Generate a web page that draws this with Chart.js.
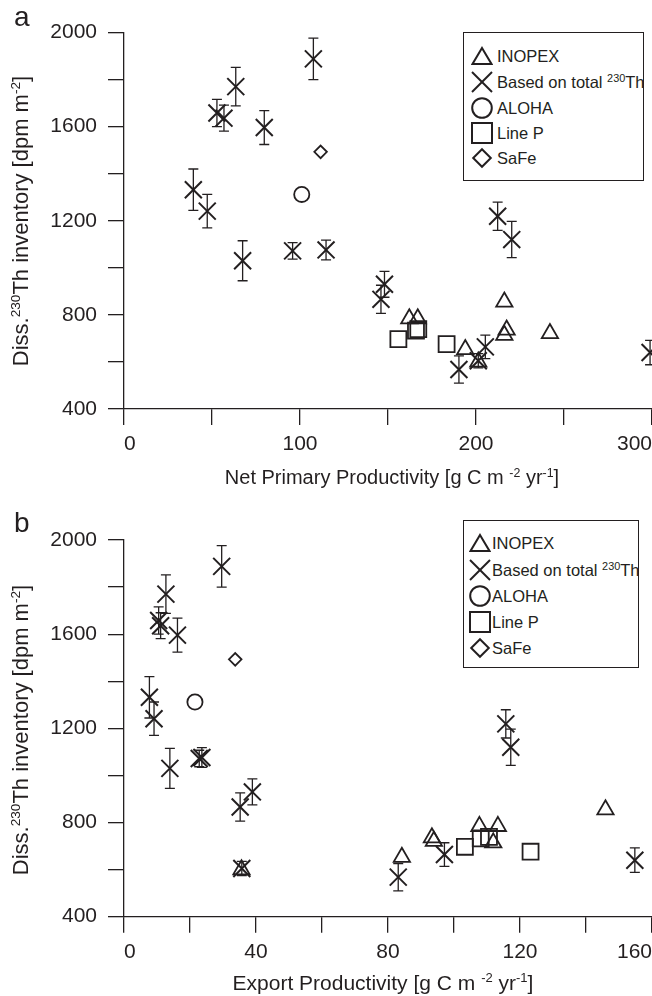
<!DOCTYPE html>
<html>
<head>
<meta charset="utf-8">
<script src="https://cdn.jsdelivr.net/npm/chart.js@4.4.1/dist/chart.umd.min.js"></script>
<style>
  body { margin: 0; background: #fff; }
  #page { position: relative; width: 652px; height: 996px; overflow: hidden;
          font-family: "Liberation Sans", Arial, sans-serif; color: #231f20; }
  canvas { position: absolute; left: 0; }
  .panel { position: absolute; font-size: 28px; line-height: 28px; }
  .xtitle { position: absolute; font-size: 21px; line-height: 21px; white-space: nowrap;
            transform: translateX(-50%); }
  .ytitle { position: absolute; font-size: 22px; line-height: 22px; white-space: nowrap;
            transform: translate(-50%, -50%) rotate(-90deg); }
  .sup { font-size: 0.62em; position: relative; top: -0.6em; }
  .legend { position: absolute; border: 1.3px solid #231f20; overflow: hidden; box-sizing: border-box; background: #fff; }
  .legend .row { position: absolute; left: 0; white-space: nowrap; font-size: 16.5px; line-height: 16px; }
  .legend .row .sup { font-size: 0.66em; }
  .legend svg { position: absolute; }
</style>
</head>
<body>
<div id="page">
  <canvas id="chartA" width="666" height="469" style="top:0px"></canvas>
  <canvas id="chartB" width="666" height="477" style="top:500px"></canvas>

  <div class="panel" style="left:14px;top:3px">a</div>
  <div class="panel" style="left:14px;top:509px">b</div>

  <div class="ytitle" style="left:22px;top:221px">Diss.<span class="sup">230</span>Th inventory [dpm m<span class="sup">-2</span>]</div>
  <div class="ytitle" style="left:22px;top:730px">Diss.<span class="sup">230</span>Th inventory [dpm m<span class="sup">-2</span>]</div>

  <div class="xtitle" style="left:392px;top:467px;font-size:20px">Net Primary Productivity [g C m <span class="sup">-2</span> yr<span class="sup">-1</span>]</div>
  <div class="xtitle" style="left:383px;top:972px">Export Productivity [g C m <span class="sup">-2</span> yr<span class="sup">-1</span>]</div>

  <div class="legend" id="legendA" style="left:463px;top:32px;width:181px;height:149px"></div>
  <div class="legend" id="legendB" style="left:463px;top:520px;width:176px;height:148px"></div>
</div>

<script>
// dissolved 230Th inventory (dpm m-2) for the "based on total 230Th" stations, with error
const totalInv = [1332, 1241, 1658, 1636, 1770, 1596, 1030, 1072, 1888, 1076, 1219, 1120, 930, 866, 568, 605, 664, 640];
const totalErr = [88, 71, 58, 55, 82, 72, 85, 35, 88, 42, 60, 77, 55, 60, 58, 30, 50, 52];
const totalNPP = [39.4, 47.3, 52.8, 56.8, 63.5, 79.7, 67.4, 95.8, 107.6, 114.8, 212.3, 220.3, 148, 146, 190.3, 201.3, 205.3, 298.9];
const totalEP = [7.7, 9.1, 10.5, 11.1, 12.7, 16.2, 13.9, 22.8, 29.6, 23.6, 115.7, 117.2, 38.9, 35.2, 83.1, 35.7, 97.1, 154.8];

const inopexInv = [784, 784, 855, 736, 714, 721, 653, 600];
const inopexNPP = [162.1, 166.9, 216.1, 217.4, 216.1, 242, 193.9, 201.3];
const inopexEP = [107.7, 113.3, 145.9, 93.3, 111.9, 93.9, 84.2, 35.6];

const alohaInv = [1312];
const alohaNPP = [101];
const alohaEP = [21.5];

const linePInv = [697, 733, 739, 676];
const linePNPP = [155.9, 165.9, 167.2, 183.3];
const linePEP = [103.3, 108.1, 110.6, 123.2];

const safeInv = [1493];
const safeNPP = [111.7];
const safeEP = [33.7];

const legendLabels = ['INOPEX', 'Based on total <span class="sup">230</span>Th', 'ALOHA', 'Line P', 'SaFe'];

const ink = '#231f20';
const font = 'Liberation Sans';

function pts(xs, ys) {
  return xs.map((x, i) => ({ x: x, y: ys[i] }));
}

// vertical error bars with caps, drawn through the chart scales
const errorBars = {
  id: 'errorBars',
  afterDatasetsDraw(chart) {
    const ctx = chart.ctx;
    const xs = chart.scales.x, ys = chart.scales.y;
    chart.data.datasets.forEach(ds => {
      if (!ds.yErr) return;
      ctx.save();
      ctx.strokeStyle = ink;
      ctx.lineWidth = 1.3;
      ds.data.forEach((p, i) => {
        const px = xs.getPixelForValue(p.x);
        const top = ys.getPixelForValue(p.y + ds.yErr[i]);
        const bot = ys.getPixelForValue(p.y - ds.yErr[i]);
        ctx.beginPath();
        ctx.moveTo(px, top); ctx.lineTo(px, bot);
        ctx.moveTo(px - 5, top); ctx.lineTo(px + 5, top);
        ctx.moveTo(px - 5, bot); ctx.lineTo(px + 5, bot);
        ctx.stroke();
      });
      ctx.restore();
    });
  }
};

function series(data, style, radius, width) {
  return {
    data: data,
    pointStyle: style,
    pointRadius: radius,
    pointHoverRadius: radius,
    pointBorderWidth: width,
    pointBorderColor: ink,
    pointBackgroundColor: 'rgba(0,0,0,0)',
    showLine: false,
    clip: false
  };
}

function makeChart(id, xs, xMax, xStep, topPad, axisH) {
  const cross = series(pts(xs.total, totalInv), 'crossRot', 12, 2);
  cross.yErr = totalErr;
  return new Chart(document.getElementById(id), {
    type: 'scatter',
    data: {
      datasets: [
        series(pts(xs.inopex, inopexInv), 'triangle', 9.4, 1.8),
        cross,
        series(pts(xs.aloha, alohaInv), 'circle', 7.6, 1.8),
        series(pts(xs.lineP, linePInv), 'rect', 11.3, 1.8),
        series(pts(xs.safe, safeInv), 'rectRot', 6.3, 1.8)
      ]
    },
    options: {
      responsive: false,
      animation: false,
      events: [],
      layout: { padding: { top: topPad, left: 0, right: 0, bottom: 0 } },
      plugins: { legend: { display: false }, tooltip: { enabled: false } },
      scales: {
        x: {
          type: 'linear',
          min: 0,
          max: xMax,
          ticks: {
            stepSize: xStep,
            autoSkip: false,
            maxRotation: 0,
            align: 'inner',
            padding: 7,
            color: ink,
            font: { family: font, size: 21 },
            callback: v => (v % (2 * xStep) === 0 ? v : '')
          },
          grid: { drawOnChartArea: false, tickLength: 16, color: ink, lineWidth: 1.3 },
          border: { color: ink, width: 1.3 },
          afterFit: s => { s.height = axisH; s.paddingLeft = 0; s.paddingRight = 0; }
        },
        y: {
          min: 400,
          max: 2000,
          ticks: {
            stepSize: 200,
            autoSkip: false,
            padding: 11,
            color: ink,
            font: { family: font, size: 21 },
            callback: v => (v % 400 === 0 ? v : '')
          },
          grid: { drawOnChartArea: false, tickLength: 16, color: ink, lineWidth: 1.3 },
          border: { color: ink, width: 1.3 },
          afterFit: s => { s.width = 124; }
        }
      }
    },
    plugins: [errorBars]
  });
}

const chartA = makeChart('chartA', { total: totalNPP, inopex: inopexNPP, aloha: alohaNPP, lineP: linePNPP, safe: safeNPP }, 300, 50, 32.5, 60);
const chartB = makeChart('chartB', { total: totalEP, inopex: inopexEP, aloha: alohaEP, lineP: linePEP, safe: safeEP }, 160, 20, 40, 60.3);
console.log('chartArea A', JSON.stringify(chartA.chartArea), 'B', JSON.stringify(chartB.chartArea));

// legend symbols
const symbols = {
  triangle: '<polygon points="11,3 20.5,19 1.5,19" />',
  cross: '<line x1="1" y1="1" x2="21" y2="21" /><line x1="21" y1="1" x2="1" y2="21" />',
  circle: '<circle cx="11" cy="11" r="9.8" />',
  square: '<rect x="1" y="1" width="20" height="20" />',
  diamond: '<polygon points="11,2.2 19.8,11 11,19.8 2.2,11" />'
};
const legendSymbols = ['triangle', 'cross', 'circle', 'square', 'diamond'];

function buildLegend(id, rowYs, markX, textX) {
  const box = document.getElementById(id);
  legendLabels.forEach((label, i) => {
    const svg = '<svg width="22" height="22" style="left:' + (markX - 11) + 'px;top:' + (rowYs[i] - 11) + 'px">' +
      '<g fill="none" stroke="' + ink + '" stroke-width="2">' + symbols[legendSymbols[i]] + '</g></svg>';
    box.insertAdjacentHTML('beforeend', svg);
    const row = document.createElement('div');
    row.className = 'row';
    row.style.left = textX + 'px';
    row.style.top = (rowYs[i] - 7.8) + 'px';
    row.innerHTML = label;
    box.appendChild(row);
  });
}

// positions relative to each legend box
buildLegend('legendA', [23, 49, 74.5, 99.5, 125], 18, 33);
buildLegend('legendB', [22, 49, 75, 101, 127], 16, 28);
</script>
</body>
</html>
